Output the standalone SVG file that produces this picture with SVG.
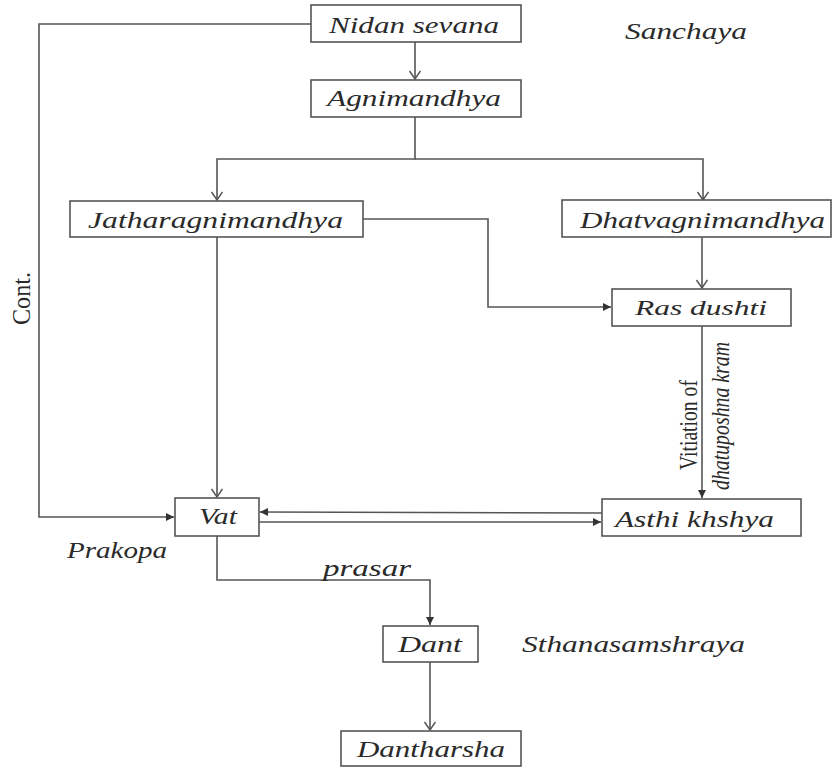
<svg xmlns="http://www.w3.org/2000/svg" width="832" height="767" viewBox="0 0 832 767">
<style>
.box{fill:#fff;stroke:#555;stroke-width:1.6}
.t{font-family:"Liberation Serif","Times New Roman",serif;font-style:italic;font-size:23px;fill:#2a2a2a}
.r{font-family:"Liberation Serif","Times New Roman",serif;fill:#2a2a2a}
.c{fill:none;stroke:#555;stroke-width:1.6}
</style>
<defs>
<marker id="open" markerUnits="userSpaceOnUse" markerWidth="14" markerHeight="14" refX="9" refY="6" orient="auto" viewBox="0 0 14 14">
<path d="M1,0.5 L9,6 L1,11.5" fill="none" stroke="#555" stroke-width="1.5"/>
</marker>
<marker id="fill" markerUnits="userSpaceOnUse" markerWidth="10" markerHeight="10" refX="8" refY="4" orient="auto" viewBox="0 0 10 8">
<path d="M0,0 L8,4 L0,8 z" fill="#333"/>
</marker>
</defs>
<rect width="832" height="767" fill="#fff"/>
<g id="connectors">
<path class="c" d="M415,42 V79" marker-end="url(#open)"/>
<path class="c" d="M415,117 V159 H217 V200" marker-end="url(#open)"/>
<path class="c" d="M415,159 H703 V200" marker-end="url(#open)"/>
<path class="c" d="M363,219 H488 V307 H611" marker-end="url(#fill)"/>
<path class="c" d="M702,237 V288" marker-end="url(#open)"/>
<path class="c" d="M702,326 V498" marker-end="url(#fill)"/>
<path class="c" d="M217,237 V497" marker-end="url(#open)"/>
<path class="c" d="M311,24 H39 V517 H174" marker-end="url(#fill)"/>
<path class="c" d="M602,513 L260,512" marker-end="url(#fill)"/>
<path class="c" d="M259,522 H601" marker-end="url(#fill)"/>
<path class="c" d="M217,536 V580 H430 V625" marker-end="url(#fill)"/>
<path class="c" d="M430,662 V730" marker-end="url(#open)"/>
</g>
<g id="nidan"><rect class="box" x="311" y="5" width="210" height="37"/><text class="t" x="329" y="33" textLength="170" lengthAdjust="spacingAndGlyphs">Nidan sevana</text></g>
<g id="agni"><rect class="box" x="311" y="80" width="210" height="37"/><text class="t" x="327" y="106" textLength="174" lengthAdjust="spacingAndGlyphs">Agnimandhya</text></g>
<g id="jathar"><rect class="box" x="70" y="201" width="293" height="36"/><text class="t" x="88" y="228" textLength="255" lengthAdjust="spacingAndGlyphs">Jatharagnimandhya</text></g>
<g id="dhatv"><rect class="box" x="562" y="200" width="269" height="37"/><text class="t" x="580" y="228" textLength="245" lengthAdjust="spacingAndGlyphs">Dhatvagnimandhya</text></g>
<g id="ras"><rect class="box" x="612" y="289" width="179" height="37"/><text class="t" x="635" y="315" style="font-size:20px" textLength="132" lengthAdjust="spacingAndGlyphs">Ras dushti</text></g>
<g id="asthi"><rect class="box" x="602" y="499" width="199" height="37"/><text class="t" x="615" y="527" textLength="159" lengthAdjust="spacingAndGlyphs">Asthi khshya</text></g>
<g id="vat"><rect class="box" x="175" y="498" width="84" height="38"/><text class="t" x="199" y="524" textLength="38" lengthAdjust="spacingAndGlyphs">Vat</text></g>
<g id="dant"><rect class="box" x="383" y="626" width="95" height="36"/><text class="t" x="398" y="652" textLength="64" lengthAdjust="spacingAndGlyphs">Dant</text></g>
<g id="dantharsha"><rect class="box" x="341" y="731" width="180" height="35"/><text class="t" x="357" y="757" textLength="148" lengthAdjust="spacingAndGlyphs">Dantharsha</text></g>
<g id="labels">
<text class="t" x="625" y="39" textLength="122" lengthAdjust="spacingAndGlyphs">Sanchaya</text>
<text class="t" x="67" y="558" textLength="100" lengthAdjust="spacingAndGlyphs">Prakopa</text>
<text class="t" x="323" y="576" textLength="88" lengthAdjust="spacingAndGlyphs">prasar</text>
<text class="t" x="522" y="652" textLength="223" lengthAdjust="spacingAndGlyphs">Sthanasamshraya</text>
<text class="r" transform="translate(30,325) rotate(-90) scale(1,1.1)" font-size="23" textLength="53" lengthAdjust="spacingAndGlyphs">Cont.</text>
<text class="r" transform="translate(697,470) rotate(-90) scale(1,1.5)" font-size="17" textLength="90" lengthAdjust="spacingAndGlyphs">Vitiation of</text>
<text class="r" transform="translate(729,490) rotate(-90) scale(1,1.5)" font-size="17" font-style="italic" textLength="148" lengthAdjust="spacingAndGlyphs">dhatuposhna kram</text>
</g>
</svg>
